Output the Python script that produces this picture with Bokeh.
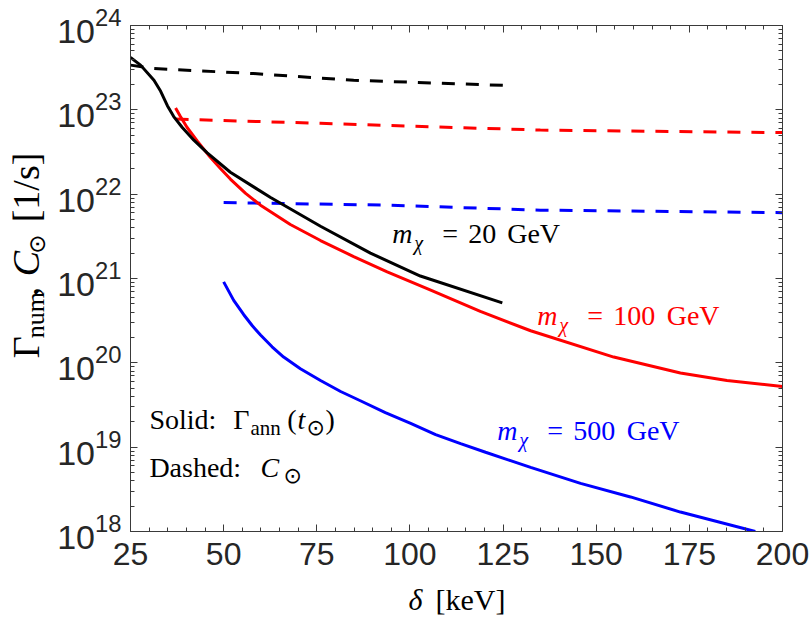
import math
from bokeh.plotting import figure
from bokeh.models import (Range1d, LinearAxis, LogAxis, FixedTicker, Label,
                          LogTickFormatter, CustomJSTickFormatter)
from bokeh.layouts import row, column
from bokeh.embed import file_html
from bokeh.resources import INLINE

# ---------------- data ----------------
x_ticks = [25, 50, 75, 100, 125, 150, 175, 200]
y_ticks = [1e18, 1e19, 1e20, 1e21, 1e22, 1e23, 1e24]

# m_chi = 20 GeV
d20_solid = [25, 27.7, 31.3, 33.1, 34.9, 36.6, 38.9, 42.0, 45.6, 51.8, 62.6, 76.0, 89.4, 102.8, 124.8]
g20_solid = [4.17e23, 3.39e23, 2.24e23, 1.66e23, 1.12e23, 8.32e22, 6.17e22, 4.37e22, 3.09e22,
             1.82e22, 9.12e21, 4.17e21, 2.00e21, 1.07e21, 5.13e20]
d20_dash = [25, 31.3, 58.1, 84.9, 125]
c20_dash = [3.39e23, 3.09e23, 2.69e23, 2.24e23, 1.95e23]

# m_chi = 100 GeV
d100_solid = [37.1, 38.4, 40.2, 42.9, 46.0, 49.2, 51.8, 55.9, 59.9, 67.9, 76.0, 84.9, 93.9,
              105.1, 118.9, 132.4, 154.7, 172.6, 185.1, 200]
g100_solid = [1.05e23, 8.32e22, 6.17e22, 4.27e22, 2.88e22, 2.00e22, 1.51e22, 1.02e22, 7.41e21,
              4.37e21, 2.82e21, 1.82e21, 1.20e21, 7.41e20, 4.07e20, 2.40e20, 1.17e20, 7.59e19,
              6.17e19, 5.25e19]
d100_dash = [37.1, 76.0, 135, 200]
c100_dash = [7.76e22, 6.92e22, 5.75e22, 5.37e22]

# m_chi = 500 GeV
d500_solid = [50.0, 52.7, 55.4, 57.7, 59.9, 63.0, 66.1, 70.6, 76.0, 81.4, 86.7, 93.4, 100.2,
              106.9, 113.6, 120.3, 127.0, 132.4, 145.8, 159.2, 172.6, 192.7]
g500_solid = [9.12e20, 5.50e20, 3.72e20, 2.75e20, 2.14e20, 1.55e20, 1.17e20, 8.51e19, 6.17e19,
              4.57e19, 3.55e19, 2.57e19, 1.91e19, 1.41e19, 1.10e19, 8.71e18, 6.92e18, 5.75e18,
              3.72e18, 2.57e18, 1.70e18, 1.00e18]
d500_dash = [50, 93.9, 135, 200]
c500_dash = [7.94e21, 7.41e21, 6.46e21, 6.03e21]

# ---------------- layout helpers ----------------
W, H = 810, 617
LEFT_W = 50          # width of the strip holding the y-axis title
BOT_H = 36           # height of the strip holding the x-axis title
L, R, T, B = 130, 782, 25, 531
XMIN, XMAX = 25.0, 200.0
LMIN, LMAX = 18.0, 24.0
MID = 0.34           # distance (in em) from the baseline up to the text-box middle


def X(px):
    return XMIN + (px - L) * (XMAX - XMIN) / (R - L)


def Y(py):
    return 10 ** (LMAX - (py - T) * (LMAX - LMIN) / (B - T))


p = figure(width=W - LEFT_W, height=H - BOT_H, x_range=Range1d(XMIN, XMAX),
           y_range=Range1d(1e18, 1e24), y_axis_type="log", output_backend="svg",
           toolbar_location=None, min_border_left=L - LEFT_W, min_border_right=W - R,
           min_border_top=T, min_border_bottom=H - BOT_H - B)
p.outline_line_color = None
p.xgrid.visible = False
p.ygrid.visible = False
p.background_fill_color = "white"
p.border_fill_color = "white"

x_minor = list(range(25, 201, 5))
y_minor = [k * 10.0 ** n for n in range(18, 24) for k in range(1, 10)]

AX = "#3a3a3a"
TICK_FONT = "Liberation Sans"


def style_axis(ax, size=None):
    ax.axis_line_color = AX
    ax.axis_line_width = 1
    ax.major_tick_line_color = AX
    ax.minor_tick_line_color = AX
    ax.major_tick_in = 7
    ax.major_tick_out = 0
    ax.minor_tick_in = 4
    ax.minor_tick_out = 0
    ax.major_label_text_font = TICK_FONT
    ax.major_label_text_color = "#262626"
    if size:
        ax.major_label_text_font_size = size
    else:
        ax.formatter = CustomJSTickFormatter(code="return ''")
        ax.major_label_text_font_size = "1px"
        ax.major_label_standoff = 0


xt = FixedTicker(ticks=x_ticks, minor_ticks=x_minor)
yt = FixedTicker(ticks=y_ticks, minor_ticks=y_minor)

p.xaxis.ticker = xt
p.yaxis.ticker = yt
p.yaxis.formatter = LogTickFormatter()
style_axis(p.xaxis[0], "32px")
style_axis(p.yaxis[0], "34px")
p.xaxis.major_label_standoff = 11
p.yaxis.major_label_standoff = 9

top = LinearAxis(ticker=xt)
style_axis(top)
p.add_layout(top, "above")
right = LogAxis(ticker=yt)
style_axis(right)
p.add_layout(right, "right")

LW = 3
DASH = "13 11"
p.line(d20_dash, c20_dash, color="black", line_width=LW, line_dash=DASH)
p.line(d100_dash, c100_dash, color="red", line_width=LW, line_dash=DASH)
p.line(d500_dash, c500_dash, color="blue", line_width=LW, line_dash=DASH)
p.line(d100_solid, g100_solid, color="red", line_width=LW)
p.line(d500_solid, g500_solid, color="blue", line_width=LW)
p.line(d20_solid, g20_solid, color="black", line_width=LW)

SERIF = "Liberation Serif"
SYM = "DejaVu Sans"


def lab(fig, x, y, text, size, color="black", italic=False, font=SERIF, angle=0.0, conv=None):
    """x, y: baseline start in screen pixels (y downwards)."""
    if angle == 0.0:
        y = y - MID * size
    else:
        x = x - MID * size
    if conv is not None:
        x, y = conv(x, y)
    fig.add_layout(Label(x=x, y=y, text=text, text_font=font,
                         text_font_size=f"{size}px",
                         text_font_style="italic" if italic else "normal",
                         text_color=color, text_align="left", text_baseline="middle",
                         angle=angle))


def plab(px, py, *args, **kw):
    lab(p, px, py, *args, conv=lambda a, b: (X(a), Y(b)), **kw)


def mass_label(x0, base, digits, color):
    plab(x0, base, "m", 28, color, italic=True)
    plab(x0 + 22, base + 6, "χ", 20, color, italic=True)
    plab(x0 + 50, base, "=", 28, color)
    plab(x0 + 76, base, digits, 28, color)
    plab(x0 + 76 + 14.5 * len(digits) + 10, base, "GeV", 28, color)


mass_label(391.7, 243, "20", "black")
mass_label(536.7, 325, "100", "red")
mass_label(496.7, 440, "500", "blue")

# Solid / Dashed annotations
plab(148.9, 429, "Solid:", 28)
plab(232.7, 429, "Γ", 28)
plab(250, 435, "ann", 21)
plab(286.7, 429, "(", 28)
plab(297, 429, "t", 28, italic=True)
plab(306, 434, "⊙", 22, font=SYM)
plab(325, 429, ")", 28)

plab(148.9, 477, "Dashed:", 28)
plab(260, 477, "C", 28, italic=True)
plab(283, 482, "⊙", 22, font=SYM)


def strip(w, h, xr, yr):
    f = figure(width=w, height=h, x_range=Range1d(*xr), y_range=Range1d(*yr),
               output_backend="svg", toolbar_location=None, min_border=0,
               x_axis_location=None, y_axis_location=None)
    f.outline_line_color = None
    f.grid.visible = False
    f.background_fill_color = "white"
    f.border_fill_color = "white"
    return f


# y-axis title strip (pixel coordinates, y downwards)
ly = strip(LEFT_W, H - BOT_H, (0, LEFT_W), (H - BOT_H, 0))
A = math.pi / 2
bx = 38
lab(ly, bx, 382, "Γ", 38, angle=A)
lab(ly, bx + 6, 359, "num", 26, angle=A)
lab(ly, bx, 311, ",", 38, angle=A)
lab(ly, bx, 288, "C", 38, italic=True, angle=A)
lab(ly, bx + 6, 262, "⊙", 23, font=SYM, angle=A)
lab(ly, bx, 226, "[1/s]", 38, angle=A)

# x-axis title strip (pixel coordinates, y downwards)
bx_fig = strip(W, BOT_H, (0, W), (H, H - BOT_H))
lab(bx_fig, 408, 609, "δ", 30, italic=True)
lab(bx_fig, 435, 609, "[keV]", 30)

layout = column(row(ly, p), bx_fig)
open("out.html", "w").write(file_html(layout, INLINE))
